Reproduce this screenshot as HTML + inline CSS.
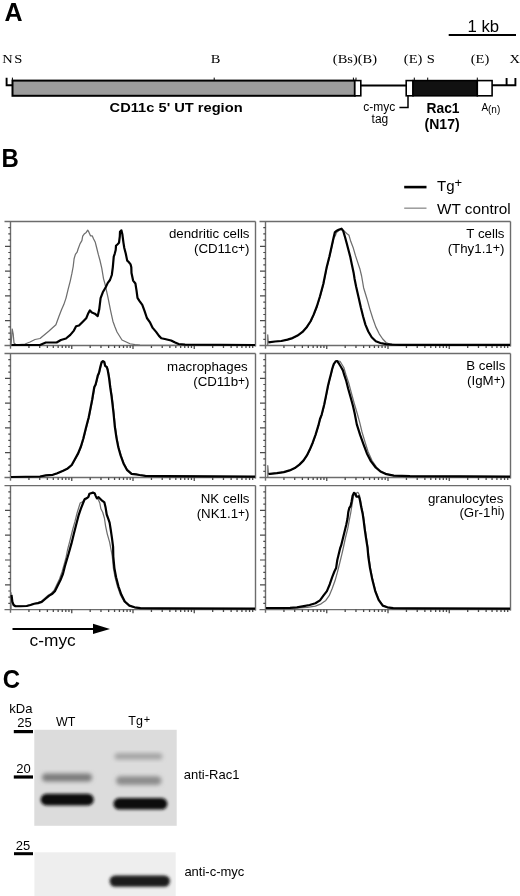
<!DOCTYPE html>
<html><head><meta charset="utf-8"><style>
html,body{margin:0;padding:0;background:#fff;width:520px;height:896px;overflow:hidden}
svg{display:block;transform:translateZ(0)}
</style></head><body>
<svg width="520" height="896" viewBox="0 0 520 896">
<defs><filter id="bl1_2" x="-20%" y="-50%" width="140%" height="200%"><feGaussianBlur stdDeviation="1.2"/></filter><filter id="bl1_3" x="-20%" y="-50%" width="140%" height="200%"><feGaussianBlur stdDeviation="1.3"/></filter><filter id="bl1_4" x="-20%" y="-50%" width="140%" height="200%"><feGaussianBlur stdDeviation="1.4"/></filter><filter id="bl1_5" x="-20%" y="-50%" width="140%" height="200%"><feGaussianBlur stdDeviation="1.5"/></filter><filter id="bl1_8" x="-20%" y="-50%" width="140%" height="200%"><feGaussianBlur stdDeviation="1.8"/></filter><filter id="bl2" x="-20%" y="-50%" width="140%" height="200%"><feGaussianBlur stdDeviation="2"/></filter></defs>
<text x="4.5" y="20.8" font-family='"Liberation Sans", sans-serif' font-weight="bold" font-size="25">A</text>
<text x="467.5" y="32.1" font-family='"Liberation Sans", sans-serif' font-size="16" textLength="31.6" lengthAdjust="spacingAndGlyphs">1 kb</text>
<rect x="448.7" y="34" width="67.3" height="2" fill="#000"/>
<text transform="translate(2.3,63.4) scale(1.1,1)" font-family='"Liberation Serif", serif' font-size="13.2">N</text>
<text transform="translate(14.2,63.4) scale(1.1,1)" font-family='"Liberation Serif", serif' font-size="13.2">S</text>
<text transform="translate(210.8,63.4) scale(1.1,1)" font-family='"Liberation Serif", serif' font-size="13.2">B</text>
<text transform="translate(332.8,63.4) scale(1.1,1)" font-family='"Liberation Serif", serif' font-size="13.2">(Bs)(B)</text>
<text transform="translate(403.8,63.4) scale(1.1,1)" font-family='"Liberation Serif", serif' font-size="13.2">(E)</text>
<text transform="translate(426.8,63.4) scale(1.1,1)" font-family='"Liberation Serif", serif' font-size="13.2">S</text>
<text transform="translate(470.7,63.4) scale(1.1,1)" font-family='"Liberation Serif", serif' font-size="13.2">(E)</text>
<text transform="translate(509.4,63.4) scale(1.1,1)" font-family='"Liberation Serif", serif' font-size="13.2">X</text>
<path d="M6.6,77.7 V85.3 H12" fill="none" stroke="#000" stroke-width="1.9"/>
<rect x="12.5" y="80.6" width="342.3" height="15.2" fill="#9c9c9c" stroke="#000" stroke-width="2"/>
<rect x="354.8" y="80.6" width="6" height="15.2" fill="#fff" stroke="#000" stroke-width="1.6"/>
<rect x="360.8" y="84.5" width="45.5" height="2" fill="#000"/>
<rect x="406.2" y="80.6" width="6.8" height="15.2" fill="#fff" stroke="#000" stroke-width="1.6"/>
<rect x="413" y="80.6" width="64.3" height="15.2" fill="#111" stroke="#000" stroke-width="1.6"/>
<rect x="477.3" y="80.6" width="14.8" height="15.2" fill="#fff" stroke="#000" stroke-width="1.6"/>
<path d="M492,85.2 H515.5 M506.6,78 V85.2 M515.4,78 V86.2" fill="none" stroke="#000" stroke-width="1.9"/>
<rect x="11.9" y="77.6" width="1" height="3" fill="#000"/>
<rect x="213.7" y="77.6" width="1" height="3" fill="#000"/>
<rect x="352.9" y="77.6" width="1" height="3" fill="#000"/>
<rect x="355.5" y="77.6" width="1" height="3" fill="#000"/>
<rect x="413.8" y="77.6" width="1" height="3" fill="#000"/>
<rect x="427.2" y="77.6" width="1" height="3" fill="#000"/>
<rect x="476.8" y="77.6" width="1" height="3" fill="#000"/>
<path d="M408,96 V107.6 H399.4" fill="none" stroke="#000" stroke-width="1.5"/>
<text x="109.6" y="111.6" font-family='"Liberation Sans", sans-serif' font-weight="bold" font-size="13.4" textLength="133" lengthAdjust="spacingAndGlyphs">CD11c 5' UT region</text>
<text x="363.2" y="110.6" font-family='"Liberation Sans", sans-serif' font-size="12">c-myc</text>
<text x="371.6" y="122.7" font-family='"Liberation Sans", sans-serif' font-size="12">tag</text>
<text x="426.5" y="112.6" font-family='"Liberation Sans", sans-serif' font-weight="bold" font-size="13.8">Rac1</text>
<text x="424.6" y="128.6" font-family='"Liberation Sans", sans-serif' font-weight="bold" font-size="14">(N17)</text>
<text x="481.5" y="110.8" font-family='"Liberation Sans", sans-serif' font-size="10">A</text>
<text x="488" y="113.3" font-family='"Liberation Sans", sans-serif' font-size="10">(n)</text>
<text x="1.6" y="167" font-family='"Liberation Sans", sans-serif' font-weight="bold" font-size="25" textLength="17.3" lengthAdjust="spacingAndGlyphs">B</text>
<rect x="404.2" y="185.8" width="22.3" height="2.6" fill="#000"/>
<rect x="404.2" y="207.6" width="22.3" height="1.1" fill="#777"/>
<text x="437" y="191.2" font-family='"Liberation Sans", sans-serif' font-size="15">Tg<tspan dy="-4" font-size="13">+</tspan></text>
<text x="437" y="213.5" font-family='"Liberation Sans", sans-serif' font-size="15.3">WT control</text>
<path d="M4.5,221.5 H255.5" stroke="#6c6c6c" stroke-width="1.4" fill="none"/>
<path d="M10.5,221.5 V348.7" stroke="#6c6c6c" stroke-width="1.4" fill="none"/>
<path d="M255.5,221.5 V346.5" stroke="#6c6c6c" stroke-width="1.4" fill="none"/>
<path d="M4.5,345.5 H255.5" stroke="#6c6c6c" stroke-width="1.4" fill="none"/>
<path d="M5.0,320.70 H10.5 M5.0,295.90 H10.5 M5.0,271.10 H10.5 M5.0,246.30 H10.5 M8.3,339.30 H10.5 M8.3,333.10 H10.5 M8.3,326.90 H10.5 M8.3,314.50 H10.5 M8.3,308.30 H10.5 M8.3,302.10 H10.5 M8.3,289.70 H10.5 M8.3,283.50 H10.5 M8.3,277.30 H10.5 M8.3,264.90 H10.5 M8.3,258.70 H10.5 M8.3,252.50 H10.5 M8.3,240.10 H10.5 M8.3,233.90 H10.5 M8.3,227.70 H10.5" stroke="#4a4a4a" stroke-width="1.2" fill="none"/>
<path d="M28.94,345.5 V347.9 M39.72,345.5 V347.9 M47.38,345.5 V347.9 M53.31,345.5 V347.9 M58.16,345.5 V347.9 M62.26,345.5 V347.9 M65.81,345.5 V347.9 M68.95,345.5 V347.9 M90.19,345.5 V347.9 M100.97,345.5 V347.9 M108.63,345.5 V347.9 M114.56,345.5 V347.9 M119.41,345.5 V347.9 M123.51,345.5 V347.9 M127.06,345.5 V347.9 M130.20,345.5 V347.9 M71.75,345.5 V349.1 M151.44,345.5 V347.9 M162.22,345.5 V347.9 M169.88,345.5 V347.9 M175.81,345.5 V347.9 M180.66,345.5 V347.9 M184.76,345.5 V347.9 M188.31,345.5 V347.9 M191.45,345.5 V347.9 M133.00,345.5 V349.1 M212.69,345.5 V347.9 M223.47,345.5 V347.9 M231.13,345.5 V347.9 M237.06,345.5 V347.9 M241.91,345.5 V347.9 M246.01,345.5 V347.9 M249.56,345.5 V347.9 M252.70,345.5 V347.9 M194.25,345.5 V349.1" stroke="#4a4a4a" stroke-width="1.3" fill="none"/>
<polyline points="11.00,345.30 11.60,338.00 12.20,329.00 13.20,334.00 14.00,343.00 16.00,344.80 25.00,344.00 30.00,342.00 35.00,339.50 40.00,338.50 48.70,331.30 55.90,324.80 58.80,316.80 61.60,309.60 63.80,304.60 66.00,298.10 68.10,289.40 70.30,280.80 71.90,273.40 73.20,266.50 74.10,258.70 75.40,254.40 77.10,252.20 78.00,249.20 80.10,243.60 81.90,240.60 82.70,236.20 84.50,233.70 86.20,232.40 87.70,230.20 88.80,231.90 90.50,235.80 92.20,235.80 93.50,238.80 95.30,242.30 96.60,247.50 98.30,254.40 100.00,260.50 101.80,268.30 103.50,278.60 104.90,283.70 107.80,296.60 110.70,311.10 112.90,321.20 115.00,327.00 117.00,332.00 122.00,340.00 130.00,343.75 135.00,344.60 140.00,345.20 255.00,345.30" fill="none" stroke="#6e6e6e" stroke-width="1.25" stroke-linejoin="round"/>
<polyline points="11.50,345.00 40.00,345.00 45.80,342.50 56.60,342.50 60.90,340.00 66.00,338.50 70.30,334.90 73.90,330.60 76.10,326.20 79.00,325.50 83.30,321.20 86.20,318.30 88.30,313.20 89.80,310.40 91.90,312.50 94.80,313.70 97.70,316.10 99.20,309.60 100.60,298.10 102.80,292.30 105.70,287.30 107.80,282.90 110.00,280.00 111.80,275.00 112.80,267.30 113.75,256.70 114.70,253.80 115.70,250.00 116.00,245.70 117.60,244.20 119.00,242.80 119.80,236.50 120.00,231.70 121.40,230.30 122.40,234.60 123.40,242.30 124.30,248.00 125.80,253.80 127.20,260.60 128.70,262.00 130.60,264.40 131.30,267.30 131.50,273.00 133.10,280.60 135.40,283.50 136.50,290.40 137.50,297.90 139.40,300.80 142.30,304.80 144.60,311.10 146.90,318.00 149.80,322.10 152.70,327.90 156.10,331.90 159.00,335.90 161.30,338.20 164.80,339.00 171.10,340.50 174.60,342.30 178.60,344.00 185.00,344.60 255.00,345.00" fill="none" stroke="#000" stroke-width="2.2" stroke-linejoin="round"/>
<text x="249.5" y="238.3" text-anchor="end" font-family='"Liberation Sans", sans-serif' font-size="13.3">dendritic cells</text>
<text x="249.5" y="253.0" text-anchor="end" font-family='"Liberation Sans", sans-serif' font-size="13.3">(CD11c<tspan dy="-0.8" font-size="12">+</tspan><tspan dy="0.8">)</tspan></text>
<path d="M259.5,221.5 H510.5" stroke="#6c6c6c" stroke-width="1.4" fill="none"/>
<path d="M265.5,221.5 V348.7" stroke="#6c6c6c" stroke-width="1.4" fill="none"/>
<path d="M510.5,221.5 V346.5" stroke="#6c6c6c" stroke-width="1.4" fill="none"/>
<path d="M259.5,345.5 H510.5" stroke="#6c6c6c" stroke-width="1.4" fill="none"/>
<path d="M260.0,320.70 H265.5 M260.0,295.90 H265.5 M260.0,271.10 H265.5 M260.0,246.30 H265.5 M263.3,339.30 H265.5 M263.3,333.10 H265.5 M263.3,326.90 H265.5 M263.3,314.50 H265.5 M263.3,308.30 H265.5 M263.3,302.10 H265.5 M263.3,289.70 H265.5 M263.3,283.50 H265.5 M263.3,277.30 H265.5 M263.3,264.90 H265.5 M263.3,258.70 H265.5 M263.3,252.50 H265.5 M263.3,240.10 H265.5 M263.3,233.90 H265.5 M263.3,227.70 H265.5" stroke="#4a4a4a" stroke-width="1.2" fill="none"/>
<path d="M283.94,345.5 V347.9 M294.72,345.5 V347.9 M302.38,345.5 V347.9 M308.31,345.5 V347.9 M313.16,345.5 V347.9 M317.26,345.5 V347.9 M320.81,345.5 V347.9 M323.95,345.5 V347.9 M345.19,345.5 V347.9 M355.97,345.5 V347.9 M363.63,345.5 V347.9 M369.56,345.5 V347.9 M374.41,345.5 V347.9 M378.51,345.5 V347.9 M382.06,345.5 V347.9 M385.20,345.5 V347.9 M326.75,345.5 V349.1 M406.44,345.5 V347.9 M417.22,345.5 V347.9 M424.88,345.5 V347.9 M430.81,345.5 V347.9 M435.66,345.5 V347.9 M439.76,345.5 V347.9 M443.31,345.5 V347.9 M446.45,345.5 V347.9 M388.00,345.5 V349.1 M467.69,345.5 V347.9 M478.47,345.5 V347.9 M486.13,345.5 V347.9 M492.06,345.5 V347.9 M496.91,345.5 V347.9 M501.01,345.5 V347.9 M504.56,345.5 V347.9 M507.70,345.5 V347.9 M449.25,345.5 V349.1" stroke="#4a4a4a" stroke-width="1.3" fill="none"/>
<polyline points="267.75,345.30 267.75,334.80 268.30,342.20 275.30,341.50 281.55,341.00 287.80,339.60 292.80,338.10 297.80,335.60 302.80,331.90 307.20,326.90 310.90,321.25 314.05,314.40 317.20,306.25 320.30,296.25 323.60,284.00 326.80,268.10 329.70,256.60 332.00,246.20 333.80,238.10 335.20,236.00 336.50,232.50 338.60,230.80 341.50,229.00 343.80,230.70 346.70,233.50 349.00,235.30 350.80,241.60 353.10,247.40 355.40,255.40 357.70,262.40 360.00,269.30 361.60,276.00 363.60,287.70 367.10,299.20 370.00,309.60 372.90,318.80 375.80,326.90 379.20,333.80 382.70,339.00 386.10,342.50 389.60,344.00 395.00,344.70 510.00,344.80" fill="none" stroke="#6e6e6e" stroke-width="1.25" stroke-linejoin="round"/>
<polyline points="268.40,342.30 275.00,341.50 281.25,341.00 287.50,339.60 292.50,338.10 297.50,335.60 302.50,331.90 306.90,326.90 310.60,321.25 313.75,314.40 316.90,306.25 320.00,296.25 323.30,284.00 326.50,268.10 329.40,256.60 331.70,246.20 333.50,238.10 334.80,232.40 336.30,231.00 338.60,229.80 341.50,228.70 343.30,231.20 345.00,237.00 346.70,243.30 348.40,249.70 350.20,256.60 351.90,264.70 353.60,272.70 354.60,279.00 356.10,286.50 358.50,296.90 360.80,307.30 363.10,316.50 365.40,324.60 368.30,331.50 371.70,337.30 375.80,341.30 380.40,343.00 386.10,344.20 391.90,344.60 400.00,344.80 510.00,344.80" fill="none" stroke="#000" stroke-width="2.2" stroke-linejoin="round"/>
<text x="504.5" y="238.3" text-anchor="end" font-family='"Liberation Sans", sans-serif' font-size="13.3">T cells</text>
<text x="504.5" y="253.0" text-anchor="end" font-family='"Liberation Sans", sans-serif' font-size="13.3">(Thy1.1<tspan dy="-0.6" font-size="12.5">+</tspan><tspan dy="0.6">)</tspan></text>
<path d="M4.5,353.5 H255.5" stroke="#6c6c6c" stroke-width="1.4" fill="none"/>
<path d="M10.5,353.5 V480.7" stroke="#6c6c6c" stroke-width="1.4" fill="none"/>
<path d="M255.5,353.5 V478.5" stroke="#6c6c6c" stroke-width="1.4" fill="none"/>
<path d="M4.5,477.5 H255.5" stroke="#6c6c6c" stroke-width="1.4" fill="none"/>
<path d="M5.0,452.70 H10.5 M5.0,427.90 H10.5 M5.0,403.10 H10.5 M5.0,378.30 H10.5 M8.3,471.30 H10.5 M8.3,465.10 H10.5 M8.3,458.90 H10.5 M8.3,446.50 H10.5 M8.3,440.30 H10.5 M8.3,434.10 H10.5 M8.3,421.70 H10.5 M8.3,415.50 H10.5 M8.3,409.30 H10.5 M8.3,396.90 H10.5 M8.3,390.70 H10.5 M8.3,384.50 H10.5 M8.3,372.10 H10.5 M8.3,365.90 H10.5 M8.3,359.70 H10.5" stroke="#4a4a4a" stroke-width="1.2" fill="none"/>
<path d="M28.94,477.5 V479.9 M39.72,477.5 V479.9 M47.38,477.5 V479.9 M53.31,477.5 V479.9 M58.16,477.5 V479.9 M62.26,477.5 V479.9 M65.81,477.5 V479.9 M68.95,477.5 V479.9 M90.19,477.5 V479.9 M100.97,477.5 V479.9 M108.63,477.5 V479.9 M114.56,477.5 V479.9 M119.41,477.5 V479.9 M123.51,477.5 V479.9 M127.06,477.5 V479.9 M130.20,477.5 V479.9 M71.75,477.5 V481.1 M151.44,477.5 V479.9 M162.22,477.5 V479.9 M169.88,477.5 V479.9 M175.81,477.5 V479.9 M180.66,477.5 V479.9 M184.76,477.5 V479.9 M188.31,477.5 V479.9 M191.45,477.5 V479.9 M133.00,477.5 V481.1 M212.69,477.5 V479.9 M223.47,477.5 V479.9 M231.13,477.5 V479.9 M237.06,477.5 V479.9 M241.91,477.5 V479.9 M246.01,477.5 V479.9 M249.56,477.5 V479.9 M252.70,477.5 V479.9 M194.25,477.5 V481.1" stroke="#4a4a4a" stroke-width="1.3" fill="none"/>
<polyline points="11.50,477.00 40.50,476.50 46.30,475.40 53.20,474.80 57.80,473.30 63.60,470.70 68.20,468.40 72.20,465.00 75.10,459.80 78.60,453.40 81.40,446.50 83.80,438.50 86.10,429.20 87.70,423.00 89.20,417.30 90.90,408.60 92.60,400.00 93.90,392.20 94.80,387.00 96.10,384.40 97.40,379.20 98.20,375.80 99.50,372.70 100.80,367.10 102.00,362.40 103.40,361.10 104.70,361.90 105.60,365.80 107.30,367.10 108.20,370.10 109.50,377.50 110.80,387.90 112.10,396.50 113.10,405.00 114.10,414.00 115.30,426.50 117.00,438.10 118.80,447.30 121.10,455.40 124.00,463.40 127.40,469.80 132.00,473.80 136.60,474.40 140.10,475.00 145.90,475.80 165.50,476.10 255.50,476.60" fill="none" stroke="#6e6e6e" stroke-width="1.25" stroke-linejoin="round"/>
<polyline points="11.00,477.00 40.00,476.50 45.80,475.40 52.70,474.80 57.30,473.30 63.10,470.70 67.70,468.40 71.70,465.00 74.60,459.80 78.10,453.40 80.90,446.50 83.30,438.50 85.60,429.20 87.20,423.00 88.70,417.30 90.40,408.60 92.10,400.00 93.40,392.20 94.30,387.00 95.60,384.40 96.90,379.20 97.70,375.80 99.00,372.70 100.30,367.10 101.50,362.40 102.90,361.10 104.20,361.90 105.10,365.80 106.80,367.10 107.70,370.10 109.00,377.50 110.30,387.90 111.60,396.50 112.60,405.00 113.60,414.00 114.80,426.50 116.50,438.10 118.30,447.30 120.60,455.40 123.50,463.40 126.90,469.80 131.50,473.80 136.10,474.40 139.60,475.00 145.40,475.80 165.00,476.10 255.00,476.60" fill="none" stroke="#000" stroke-width="2.2" stroke-linejoin="round"/>
<text x="247.7" y="371.40000000000003" text-anchor="end" font-family='"Liberation Sans", sans-serif' font-size="13.3">macrophages</text>
<text x="249.5" y="386.1" text-anchor="end" font-family='"Liberation Sans", sans-serif' font-size="13.3">(CD11b<tspan dy="-0.8" font-size="12">+</tspan><tspan dy="0.8">)</tspan></text>
<path d="M259.5,353.5 H510.5" stroke="#6c6c6c" stroke-width="1.4" fill="none"/>
<path d="M265.5,353.5 V480.7" stroke="#6c6c6c" stroke-width="1.4" fill="none"/>
<path d="M510.5,353.5 V478.5" stroke="#6c6c6c" stroke-width="1.4" fill="none"/>
<path d="M259.5,477.5 H510.5" stroke="#6c6c6c" stroke-width="1.4" fill="none"/>
<path d="M260.0,452.70 H265.5 M260.0,427.90 H265.5 M260.0,403.10 H265.5 M260.0,378.30 H265.5 M263.3,471.30 H265.5 M263.3,465.10 H265.5 M263.3,458.90 H265.5 M263.3,446.50 H265.5 M263.3,440.30 H265.5 M263.3,434.10 H265.5 M263.3,421.70 H265.5 M263.3,415.50 H265.5 M263.3,409.30 H265.5 M263.3,396.90 H265.5 M263.3,390.70 H265.5 M263.3,384.50 H265.5 M263.3,372.10 H265.5 M263.3,365.90 H265.5 M263.3,359.70 H265.5" stroke="#4a4a4a" stroke-width="1.2" fill="none"/>
<path d="M283.94,477.5 V479.9 M294.72,477.5 V479.9 M302.38,477.5 V479.9 M308.31,477.5 V479.9 M313.16,477.5 V479.9 M317.26,477.5 V479.9 M320.81,477.5 V479.9 M323.95,477.5 V479.9 M345.19,477.5 V479.9 M355.97,477.5 V479.9 M363.63,477.5 V479.9 M369.56,477.5 V479.9 M374.41,477.5 V479.9 M378.51,477.5 V479.9 M382.06,477.5 V479.9 M385.20,477.5 V479.9 M326.75,477.5 V481.1 M406.44,477.5 V479.9 M417.22,477.5 V479.9 M424.88,477.5 V479.9 M430.81,477.5 V479.9 M435.66,477.5 V479.9 M439.76,477.5 V479.9 M443.31,477.5 V479.9 M446.45,477.5 V479.9 M388.00,477.5 V481.1 M467.69,477.5 V479.9 M478.47,477.5 V479.9 M486.13,477.5 V479.9 M492.06,477.5 V479.9 M496.91,477.5 V479.9 M501.01,477.5 V479.9 M504.56,477.5 V479.9 M507.70,477.5 V479.9 M449.25,477.5 V481.1" stroke="#4a4a4a" stroke-width="1.3" fill="none"/>
<polyline points="267.80,477.50 267.80,465.70 268.40,473.90 277.20,473.20 284.10,472.10 289.90,470.40 295.10,468.10 299.70,464.60 303.70,460.60 307.20,455.40 310.10,449.60 313.00,442.70 315.90,434.60 318.70,425.40 320.30,419.00 322.00,414.60 324.40,405.00 326.40,395.40 328.30,385.80 329.70,380.00 331.20,374.20 332.60,368.50 334.05,364.10 336.00,361.25 337.40,361.00 340.00,361.25 343.80,367.50 345.80,374.20 348.70,382.90 351.50,393.50 354.40,404.00 357.30,413.70 359.70,422.30 362.00,432.00 365.00,442.00 368.00,451.50 372.00,460.50 376.50,467.20 381.00,471.30 387.00,474.10 394.00,475.60 410.00,476.20 510.00,476.60" fill="none" stroke="#6e6e6e" stroke-width="1.25" stroke-linejoin="round"/>
<polyline points="268.50,474.00 270.00,473.80 276.90,473.20 283.80,472.10 289.60,470.40 294.80,468.10 299.40,464.60 303.40,460.60 306.90,455.40 309.80,449.60 312.70,442.70 315.60,434.60 318.40,425.40 320.00,419.00 321.70,414.60 324.10,405.00 326.10,395.40 328.00,385.80 329.40,380.00 330.90,374.20 332.30,368.50 333.75,364.10 335.70,361.25 337.10,361.00 339.00,363.70 341.00,367.00 342.90,370.40 344.30,375.20 346.25,381.00 348.20,388.70 350.60,397.30 353.00,406.00 354.60,413.00 356.80,424.40 360.20,435.20 363.60,444.60 366.90,453.40 371.00,461.40 375.70,467.50 380.40,471.50 386.40,474.20 393.80,475.60 410.00,476.20 510.00,476.60" fill="none" stroke="#000" stroke-width="2.2" stroke-linejoin="round"/>
<text x="505.4" y="370.3" text-anchor="end" font-family='"Liberation Sans", sans-serif' font-size="13.3">B cells</text>
<text x="505.1" y="385.0" text-anchor="end" font-family='"Liberation Sans", sans-serif' font-size="13.3">(IgM<tspan dy="-0.8" font-size="12">+</tspan><tspan dy="0.8">)</tspan></text>
<path d="M4.5,485.6 H255.5" stroke="#6c6c6c" stroke-width="1.4" fill="none"/>
<path d="M10.5,485.6 V612.8000000000001" stroke="#6c6c6c" stroke-width="1.4" fill="none"/>
<path d="M255.5,485.6 V610.6" stroke="#6c6c6c" stroke-width="1.4" fill="none"/>
<path d="M4.5,609.6 H255.5" stroke="#6c6c6c" stroke-width="1.4" fill="none"/>
<path d="M5.0,584.80 H10.5 M5.0,560.00 H10.5 M5.0,535.20 H10.5 M5.0,510.40 H10.5 M8.3,603.40 H10.5 M8.3,597.20 H10.5 M8.3,591.00 H10.5 M8.3,578.60 H10.5 M8.3,572.40 H10.5 M8.3,566.20 H10.5 M8.3,553.80 H10.5 M8.3,547.60 H10.5 M8.3,541.40 H10.5 M8.3,529.00 H10.5 M8.3,522.80 H10.5 M8.3,516.60 H10.5 M8.3,504.20 H10.5 M8.3,498.00 H10.5 M8.3,491.80 H10.5" stroke="#4a4a4a" stroke-width="1.2" fill="none"/>
<path d="M28.94,609.6 V612.0 M39.72,609.6 V612.0 M47.38,609.6 V612.0 M53.31,609.6 V612.0 M58.16,609.6 V612.0 M62.26,609.6 V612.0 M65.81,609.6 V612.0 M68.95,609.6 V612.0 M90.19,609.6 V612.0 M100.97,609.6 V612.0 M108.63,609.6 V612.0 M114.56,609.6 V612.0 M119.41,609.6 V612.0 M123.51,609.6 V612.0 M127.06,609.6 V612.0 M130.20,609.6 V612.0 M71.75,609.6 V613.2 M151.44,609.6 V612.0 M162.22,609.6 V612.0 M169.88,609.6 V612.0 M175.81,609.6 V612.0 M180.66,609.6 V612.0 M184.76,609.6 V612.0 M188.31,609.6 V612.0 M191.45,609.6 V612.0 M133.00,609.6 V613.2 M212.69,609.6 V612.0 M223.47,609.6 V612.0 M231.13,609.6 V612.0 M237.06,609.6 V612.0 M241.91,609.6 V612.0 M246.01,609.6 V612.0 M249.56,609.6 V612.0 M252.70,609.6 V612.0 M194.25,609.6 V613.2" stroke="#4a4a4a" stroke-width="1.3" fill="none"/>
<polyline points="11.00,609.50 11.00,592.50 11.60,598.00 12.60,603.00 14.50,605.80 20.00,606.10 26.00,605.80 30.00,604.80 34.00,603.50 37.50,602.80 41.00,601.60 44.50,598.50 48.20,595.30 51.40,593.30 54.00,590.50 56.40,585.50 59.50,579.00 62.00,572.00 64.00,565.00 65.80,558.50 67.50,550.00 69.80,541.10 72.70,529.50 75.00,521.40 77.30,512.20 80.20,503.00 82.50,501.80 84.80,499.00 86.50,498.40 88.30,497.20 89.40,493.80 91.10,493.20 92.90,492.60 94.60,493.20 95.80,496.10 96.90,498.40 98.10,499.00 99.80,503.00 100.90,508.80 102.70,512.20 104.40,518.00 105.60,526.10 107.30,534.10 109.60,542.20 111.20,550.30 112.30,556.50 113.40,568.10 115.10,577.30 117.50,586.50 120.30,594.60 124.00,601.50 128.80,605.60 134.00,607.30 140.40,608.20 160.00,608.40 255.00,608.60" fill="none" stroke="#6e6e6e" stroke-width="1.25" stroke-linejoin="round"/>
<polyline points="11.50,595.00 12.40,601.90 13.60,605.00 15.50,606.25 20.50,606.25 26.75,606.00 30.50,605.00 34.25,603.75 38.00,603.10 41.75,601.90 45.50,598.75 49.25,595.60 52.40,593.75 54.90,591.25 57.40,586.25 60.50,580.00 63.00,573.75 64.90,566.25 66.75,560.00 68.60,553.75 70.50,546.90 71.50,543.40 73.80,534.10 76.10,524.90 78.50,515.70 80.80,508.80 83.10,503.00 84.80,499.00 86.50,498.40 88.30,497.20 89.40,493.80 91.10,493.20 92.90,492.60 94.60,493.20 95.80,496.10 96.90,498.40 98.60,497.20 100.40,499.00 102.10,500.70 104.40,502.40 105.60,507.60 106.70,514.50 108.40,519.10 109.60,522.60 110.70,529.50 111.90,537.60 113.10,546.80 113.30,556.50 114.40,568.10 116.10,577.30 118.50,586.50 121.30,594.60 124.80,601.50 129.40,605.60 134.60,607.30 140.40,608.20 160.00,608.40 255.00,608.60" fill="none" stroke="#000" stroke-width="2.2" stroke-linejoin="round"/>
<text x="249.5" y="503.00000000000006" text-anchor="end" font-family='"Liberation Sans", sans-serif' font-size="13.3">NK cells</text>
<text x="249.5" y="517.7" text-anchor="end" font-family='"Liberation Sans", sans-serif' font-size="13.3">(NK1.1<tspan dy="-0.8" font-size="12">+</tspan><tspan dy="0.8">)</tspan></text>
<path d="M259.5,485.6 H510.5" stroke="#6c6c6c" stroke-width="1.4" fill="none"/>
<path d="M265.5,485.6 V612.8000000000001" stroke="#6c6c6c" stroke-width="1.4" fill="none"/>
<path d="M510.5,485.6 V610.6" stroke="#6c6c6c" stroke-width="1.4" fill="none"/>
<path d="M259.5,609.6 H510.5" stroke="#6c6c6c" stroke-width="1.4" fill="none"/>
<path d="M260.0,584.80 H265.5 M260.0,560.00 H265.5 M260.0,535.20 H265.5 M260.0,510.40 H265.5 M263.3,603.40 H265.5 M263.3,597.20 H265.5 M263.3,591.00 H265.5 M263.3,578.60 H265.5 M263.3,572.40 H265.5 M263.3,566.20 H265.5 M263.3,553.80 H265.5 M263.3,547.60 H265.5 M263.3,541.40 H265.5 M263.3,529.00 H265.5 M263.3,522.80 H265.5 M263.3,516.60 H265.5 M263.3,504.20 H265.5 M263.3,498.00 H265.5 M263.3,491.80 H265.5" stroke="#4a4a4a" stroke-width="1.2" fill="none"/>
<path d="M283.94,609.6 V612.0 M294.72,609.6 V612.0 M302.38,609.6 V612.0 M308.31,609.6 V612.0 M313.16,609.6 V612.0 M317.26,609.6 V612.0 M320.81,609.6 V612.0 M323.95,609.6 V612.0 M345.19,609.6 V612.0 M355.97,609.6 V612.0 M363.63,609.6 V612.0 M369.56,609.6 V612.0 M374.41,609.6 V612.0 M378.51,609.6 V612.0 M382.06,609.6 V612.0 M385.20,609.6 V612.0 M326.75,609.6 V613.2 M406.44,609.6 V612.0 M417.22,609.6 V612.0 M424.88,609.6 V612.0 M430.81,609.6 V612.0 M435.66,609.6 V612.0 M439.76,609.6 V612.0 M443.31,609.6 V612.0 M446.45,609.6 V612.0 M388.00,609.6 V613.2 M467.69,609.6 V612.0 M478.47,609.6 V612.0 M486.13,609.6 V612.0 M492.06,609.6 V612.0 M496.91,609.6 V612.0 M501.01,609.6 V612.0 M504.56,609.6 V612.0 M507.70,609.6 V612.0 M449.25,609.6 V613.2" stroke="#4a4a4a" stroke-width="1.3" fill="none"/>
<polyline points="266.00,608.20 300.00,607.90 307.30,607.30 315.40,606.10 321.10,603.80 325.80,600.40 329.20,595.70 332.10,588.80 335.00,580.80 337.30,572.70 339.60,563.50 341.90,554.20 343.30,548.00 345.40,538.00 347.80,528.40 349.20,520.70 350.70,513.00 352.10,504.30 353.60,495.70 356.00,493.30 357.90,492.30 359.30,494.70 360.40,499.50 361.80,507.20 363.20,514.00 364.20,520.70 365.10,528.40 366.50,538.00 368.00,547.60 368.80,556.50 370.50,568.10 372.80,579.60 375.70,591.10 379.10,599.80 383.20,605.60 387.80,607.30 393.50,608.20 415.00,608.40 510.00,608.60" fill="none" stroke="#6e6e6e" stroke-width="1.25" stroke-linejoin="round"/>
<polyline points="266.00,608.00 290.00,607.90 296.90,607.30 303.80,606.10 309.60,605.00 315.40,603.20 320.00,600.40 323.40,595.70 326.90,591.10 329.80,584.20 332.10,577.30 334.40,571.50 336.10,568.10 337.30,560.00 339.00,553.10 340.20,548.00 341.10,545.70 343.00,538.00 344.90,530.30 346.30,524.50 347.50,518.80 348.30,512.00 349.20,508.20 350.70,505.80 351.60,501.50 352.60,495.70 354.00,492.80 355.50,493.80 356.40,496.70 357.90,496.70 358.80,496.20 359.80,499.50 361.25,507.20 362.70,514.00 363.65,520.70 364.60,528.40 366.00,538.00 367.50,547.60 368.30,556.50 370.00,568.10 372.30,579.60 375.20,591.10 378.60,599.80 382.70,605.60 387.30,607.30 393.10,608.20 415.00,608.40 510.00,608.60" fill="none" stroke="#000" stroke-width="2.2" stroke-linejoin="round"/>
<text x="503.3" y="502.70000000000005" text-anchor="end" font-family='"Liberation Sans", sans-serif' font-size="13.3">granulocytes</text>
<text x="504.8" y="517.4" text-anchor="end" font-family='"Liberation Sans", sans-serif' font-size="13.3">(Gr-1<tspan dx="0.6" dy="-2.6" font-size="12">hi</tspan><tspan dy="2.6">)</tspan></text>
<rect x="12.5" y="628" width="82" height="2" fill="#000"/>
<polygon points="93,623.8 110,629 93,634" fill="#000"/>
<text x="29.6" y="646.3" font-family='"Liberation Sans", sans-serif' font-size="17.3">c-myc</text>
<text x="2.8" y="688.1" font-family='"Liberation Sans", sans-serif' font-weight="bold" font-size="26" textLength="17.3" lengthAdjust="spacingAndGlyphs">C</text>
<text x="9.3" y="712.5" font-family='"Liberation Sans", sans-serif' font-size="13">kDa</text>
<text x="17.3" y="727" font-family='"Liberation Sans", sans-serif' font-size="13">25</text>
<rect x="13.8" y="730" width="19.2" height="3.2" fill="#000"/>
<text x="56" y="725.7" font-family='"Liberation Sans", sans-serif' font-size="12.5">WT</text>
<text x="128.3" y="725" font-family='"Liberation Sans", sans-serif' font-size="12.5">Tg<tspan dx="0.8" dy="-1.6" font-size="11">+</tspan></text>
<text x="16.3" y="772.5" font-family='"Liberation Sans", sans-serif' font-size="13">20</text>
<rect x="13.8" y="775.4" width="19.2" height="3.2" fill="#000"/>
<text x="15.8" y="850.4" font-family='"Liberation Sans", sans-serif' font-size="13">25</text>
<rect x="14" y="852.2" width="19" height="3" fill="#000"/>
<text x="183.8" y="778.7" font-family='"Liberation Sans", sans-serif' font-size="13">anti-Rac1</text>
<text x="184.4" y="875.8" font-family='"Liberation Sans", sans-serif' font-size="13">anti-c-myc</text>
<rect x="34.3" y="729.8" width="142.4" height="96" fill="#dcdcdc"/>
<rect x="34.4" y="852.3" width="141.3" height="44" fill="#eeeeee"/>
<rect x="42" y="773.4" width="50" height="8.0" rx="4.0" ry="4.0" fill="#7a7a7a" filter="url(#bl2)"/>
<rect x="40.6" y="793.8" width="53.199999999999996" height="11.800000000000068" rx="5.900000000000034" ry="5.900000000000034" fill="#101010" filter="url(#bl1_4)"/>
<rect x="114.6" y="753.2" width="47.80000000000001" height="6.399999999999977" rx="3.1999999999999886" ry="3.1999999999999886" fill="#a3a3a3" filter="url(#bl2)"/>
<rect x="116" y="776.2" width="45.5" height="8.799999999999955" rx="4.399999999999977" ry="4.399999999999977" fill="#8c8c8c" filter="url(#bl2)"/>
<rect x="113.4" y="798" width="54.0" height="11.600000000000023" rx="5.800000000000011" ry="5.800000000000011" fill="#0f0f0f" filter="url(#bl1_4)"/>
<rect x="109.6" y="875.4" width="60.400000000000006" height="11.399999999999977" rx="5.699999999999989" ry="5.699999999999989" fill="#1c1c1c" filter="url(#bl1_4)"/>
</svg>
</body></html>
